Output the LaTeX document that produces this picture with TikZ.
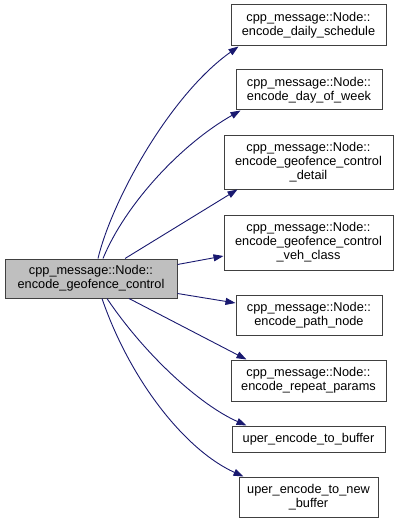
\documentclass[tikz,border=0pt]{standalone}
\usepackage{fontspec}
\setmainfont{Liberation Sans}
\usetikzlibrary{arrows.meta,calc}
\definecolor{edgeblue}{HTML}{191970}
\tikzset{
  fn/.style={draw=black!75,line width=1pt,fill=white,align=center,inner sep=0pt,font=\fontsize{12.75}{14}\selectfont},
  cur/.style={fn,fill=black!25},
  call/.style={draw=edgeblue,line width=0.9pt,-{Triangle[length=10pt,width=7pt]}},
}
\begin{document}
\begin{tikzpicture}[x=1pt,y=-1pt]
  \useasboundingbox (0,0) rectangle (400,524);
  % caller and callees
  \node[cur,minimum width=172,minimum height=39] (cur) at (91,278.5){cpp\_message::Node::\\encode\_geofence\_control};
  \node[fn,minimum width=155,minimum height=41] (daily) at (308.5,25.5){cpp\_message::Node::\\encode\_daily\_schedule};
  \node[fn,minimum width=146,minimum height=40] (dow) at (309,90){cpp\_message::Node::\\encode\_day\_of\_week};
  \node[fn,minimum width=169,minimum height=54] (detail) at (308.5,162){cpp\_message::Node::\\encode\_geofence\_control\\\_detail};
  \node[fn,minimum width=169,minimum height=55] (veh) at (308.5,242.5){cpp\_message::Node::\\encode\_geofence\_control\\\_veh\_class};
  \node[fn,minimum width=146,minimum height=40] (path) at (309,315){cpp\_message::Node::\\encode\_path\_node};
  \node[fn,minimum width=155,minimum height=41] (rep) at (308.5,380.5){cpp\_message::Node::\\encode\_repeat\_params};
  \node[fn,minimum width=153,minimum height=26] (ubuf) at (308.5,439){uper\_encode\_to\_buffer};
  \node[fn,minimum width=139,minimum height=40] (nbuf) at (308.5,497){uper\_encode\_to\_new\\\_buffer};
  \draw[call] ($(cur.north)+(7,0)$) .. controls (112,200) and (170,95) .. ($(daily.south west)+(8,0)$);
  \draw[call] ($(cur.north)+(12,0)$) .. controls (125,205) and (180,145) .. ($(dow.south west)+(5,0)$);
  \draw[call] ($(cur.north)+(34,0)$) -- ($(detail.south west)+(14,0)$);
  \draw[call] ($(cur.east)+(0,-14)$) -- ($(veh.west)+(0,13.5)$);
  \draw[call] ($(cur.east)+(0,15)$) -- ($(path.west)+(0,-12)$);
  \draw[call] ($(cur.south)+(38,0)$) -- ($(rep.north west)+(16,0)$);
  \draw[call] ($(cur.south)+(16,0)$) .. controls (145,355) and (200,405) .. ($(ubuf.north west)+(15,0)$);
  \draw[call] ($(cur.south)+(11,0)$) .. controls (130,380) and (185,450) .. ($(nbuf.north west)+(5,0)$);
\end{tikzpicture}
\end{document}
